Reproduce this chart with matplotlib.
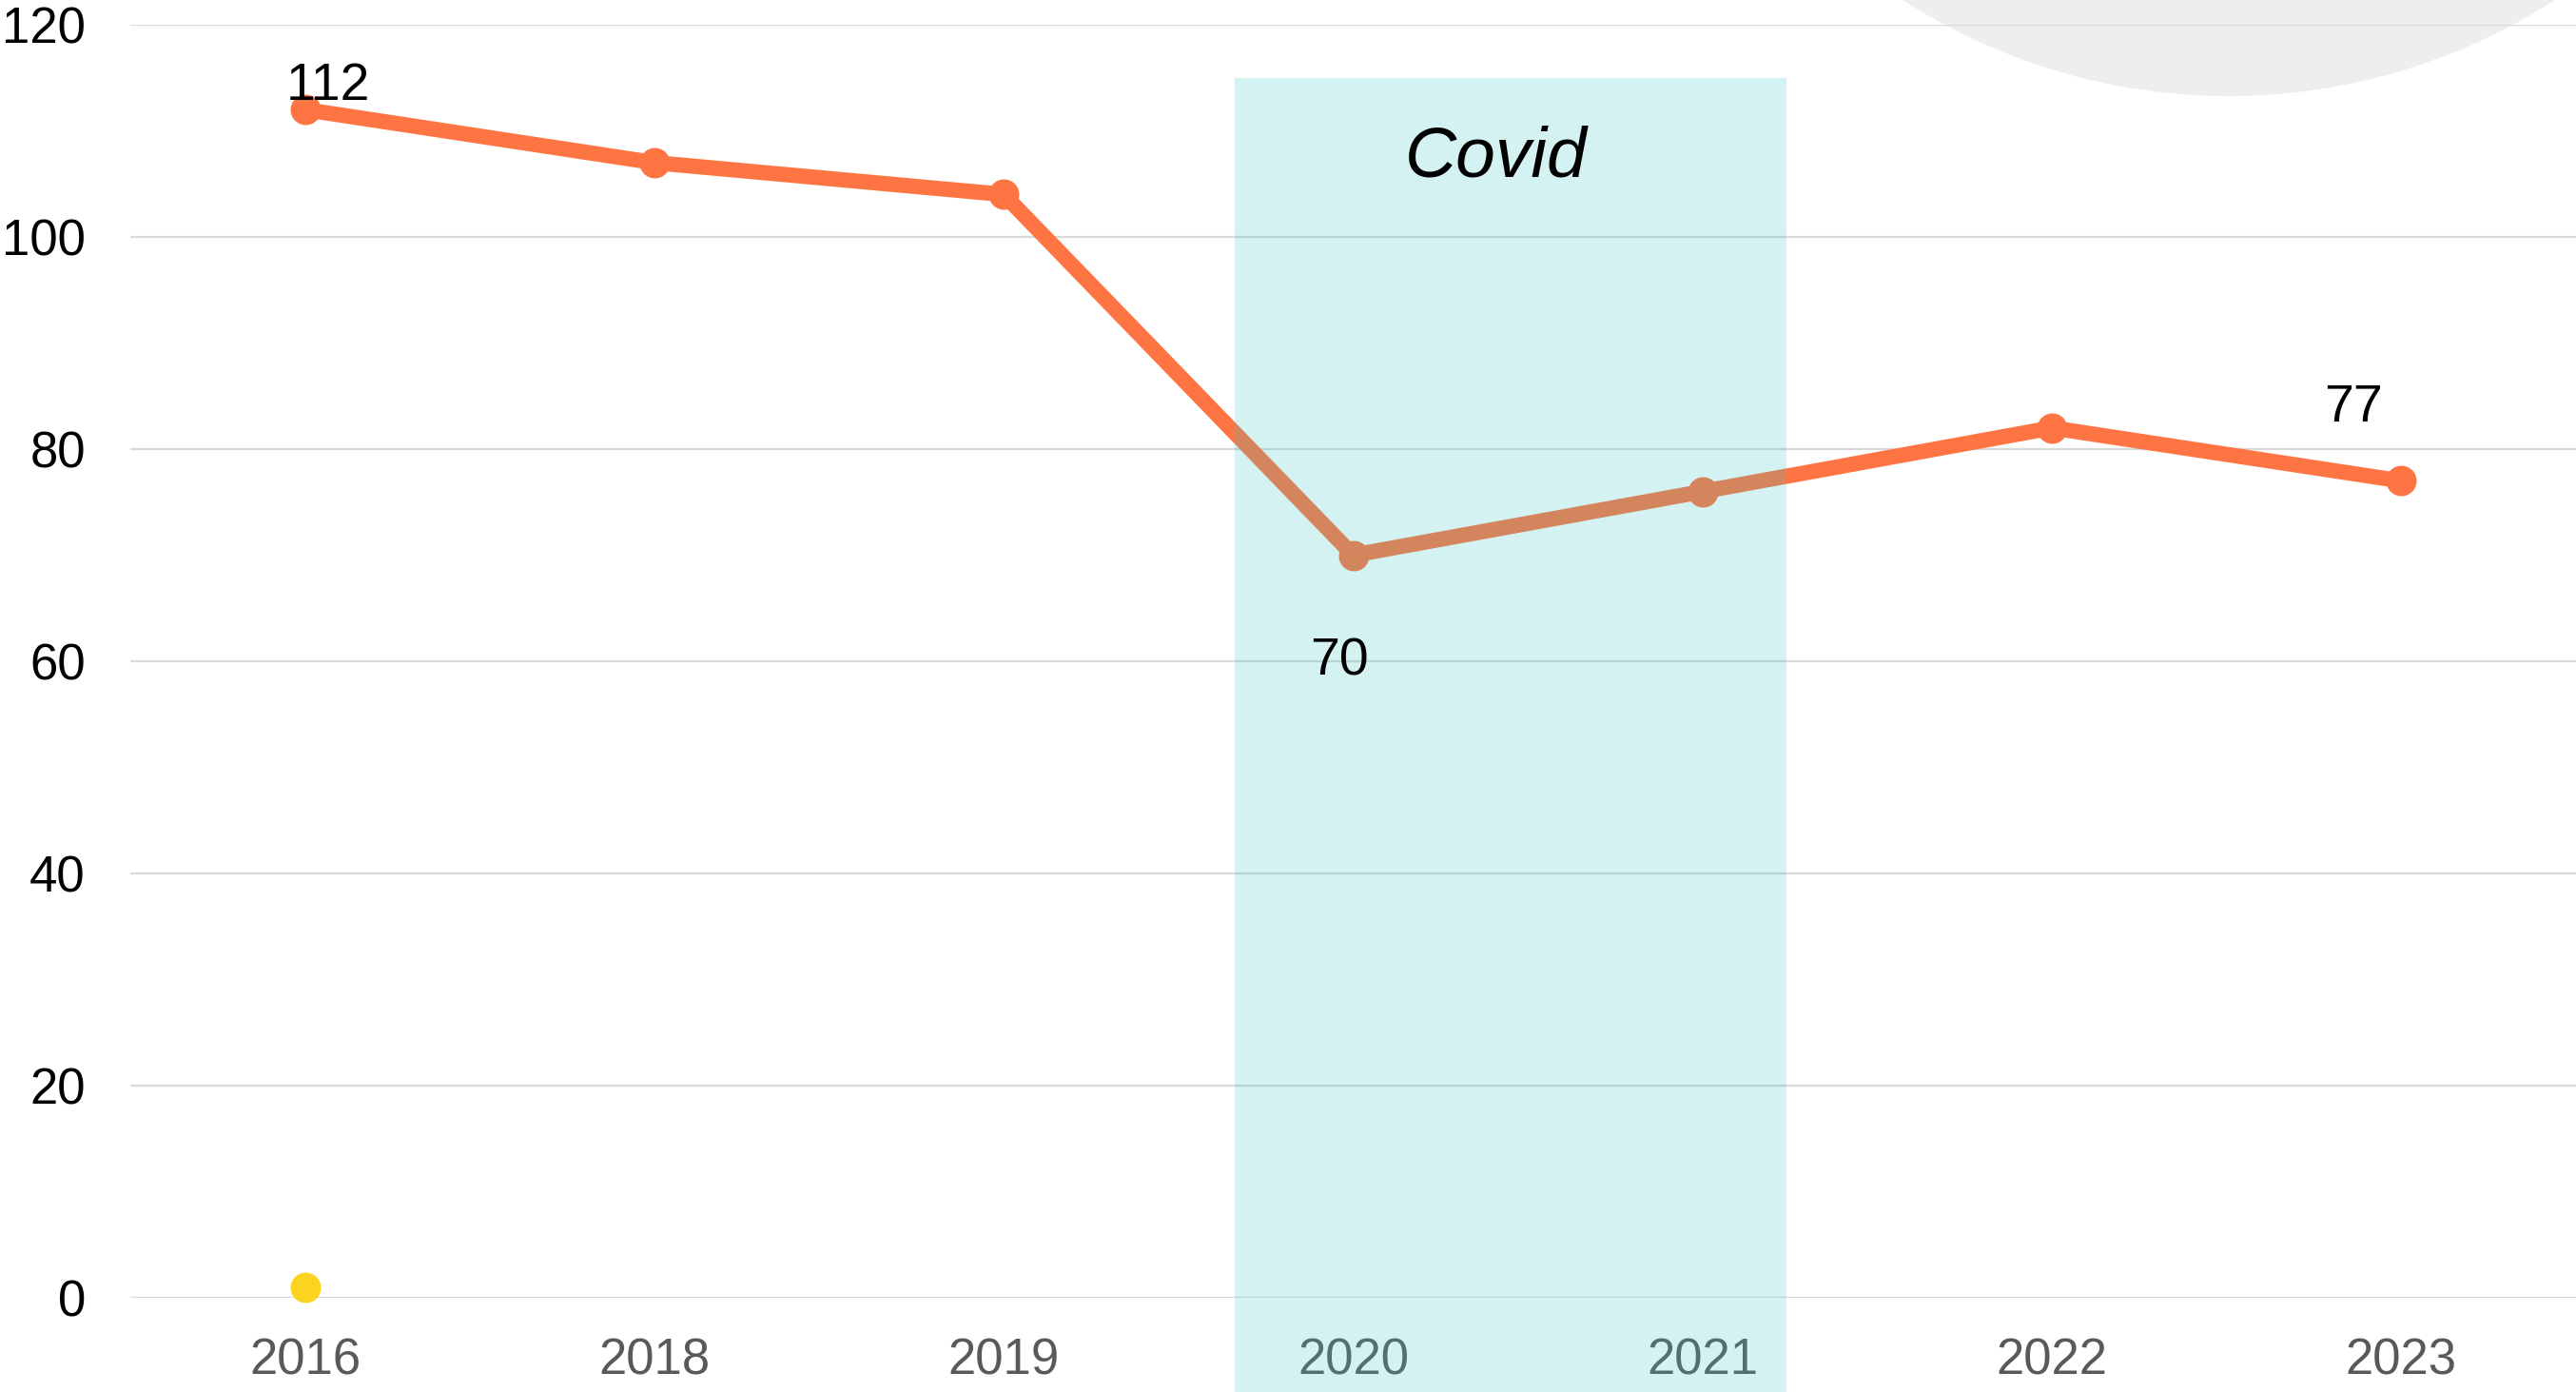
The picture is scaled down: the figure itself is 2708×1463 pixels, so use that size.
import matplotlib
matplotlib.use("Agg")
import matplotlib.pyplot as plt
from matplotlib.patches import Rectangle, Ellipse

plt.rcParams['font.family'] = ['Liberation Sans', 'DejaVu Sans']

lata = ["2016", "2018", "2019", "2020", "2021", "2022", "2023"]
wartosci = [112, 107, 104, 70, 76, 82, 77]
# podpisane punkty: indeks, przesuniecie w pt
podpisy = {0: (8.6, 8.6), 3: (-5.4, -40.3), 6: (-18, 27.7)}
covid_od, covid_do, covid_gora = 2.66, 4.24, 115
zolty_punkt = (0, 1)

fig = plt.figure(figsize=(13.54, 7.315), dpi=200)
ax = fig.add_axes([137/2708, 99/1463, 1 - 137/2708, (1364 - 26)/1463])
ax.patch.set_visible(False)

# szare kolo w prawym gornym rogu
fig.add_artist(Ellipse((2343/2708, 1 + 531/1463), 2*632/2708, 2*632/1463,
                       transform=fig.transFigure, color="#eeeeee", zorder=-1, lw=0))

x = list(range(len(lata)))
ax.plot(x, wartosci, color="#ff7443", lw=5.8, marker="o", ms=10.5,
        solid_capstyle="round", zorder=3)
ax.plot([zolty_punkt[0]], [zolty_punkt[1]], "o", color="#fcd41f", ms=10.5,
        clip_on=False, zorder=3)

for i, (dx, dy) in podpisy.items():
    ax.annotate(str(wartosci[i]), (x[i], wartosci[i]), xytext=(dx, dy),
                textcoords="offset points", ha="center", va="center",
                fontsize=20, color="black", zorder=5)

ax.add_patch(Rectangle((covid_od, -9), covid_do - covid_od, covid_gora + 9,
                       facecolor="#37c6be", alpha=0.21, lw=0, clip_on=False, zorder=4))
ax.text(3.41, 107.4, "Covid", style="italic", fontsize=27,
        ha="center", va="center", zorder=5)

ax.set_xlim(-0.5, 6.5)
ax.set_ylim(0, 120)
ax.set_yticks([0, 20, 40, 60, 80, 100, 120])
ax.set_xticks(x)
ax.set_xticklabels(lata)
ax.tick_params(axis="y", length=0, pad=17, labelsize=19, labelcolor="black")
ax.tick_params(axis="x", length=0, pad=15, labelsize=19, labelcolor="#595959")
ax.grid(True, axis="y", color="#d9d9d9", lw=0.8)
ax.set_axisbelow(True)
for s in ax.spines.values():
    s.set_visible(False)

fig.savefig("out.png", dpi=200)
